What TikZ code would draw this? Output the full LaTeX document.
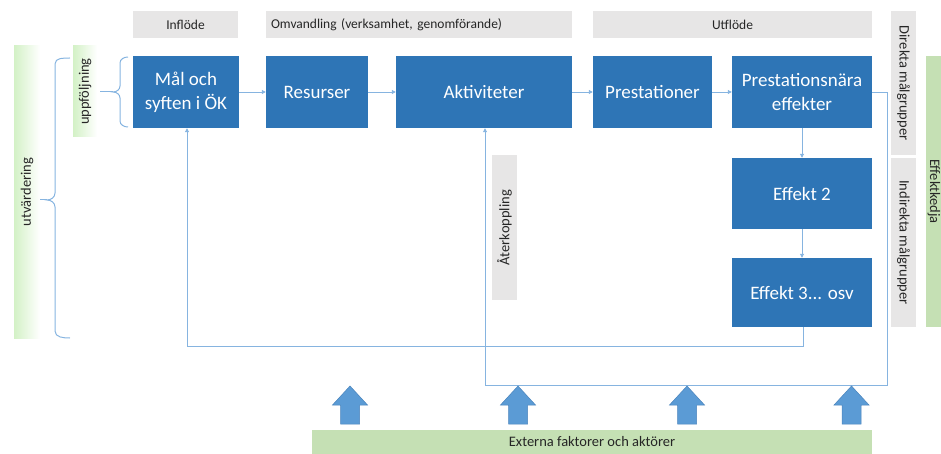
\documentclass[tikz,border=0pt]{standalone}
\usepackage{fontspec}
\setmainfont{Carlito}
\usetikzlibrary{arrows.meta}
\definecolor{boxblue}{HTML}{2E75B6}
\definecolor{hdrgray}{HTML}{E7E6E6}
\definecolor{linkblue}{HTML}{86B4E0}
\definecolor{extgreen}{HTML}{C5E0B4}
\definecolor{gradgreen}{HTML}{D3F1C6}
\definecolor{arrowfill}{HTML}{5B9BD5}
\definecolor{arrowedge}{HTML}{4A84BC}
\definecolor{txt}{HTML}{262626}
\begin{document}
\begin{tikzpicture}[x=1pt,y=-1pt,
  bluebox/.style={fill=boxblue, text=white, font=\fontsize{19}{24}\selectfont, align=center, inner sep=0pt, minimum height=72pt},
  hdr/.style={fill=hdrgray, text=txt, font=\fontsize{13.5}{15}\selectfont, inner sep=0pt, minimum height=27pt},
  vlabel/.style={text=txt, font=\fontsize{14.5}{16}\selectfont, inner sep=0pt},
  vgray/.style={vlabel, fill=hdrgray, minimum height=25pt},
  link/.style={draw=linkblue, line width=0.9pt, -{Triangle[length=4pt,width=4pt]}},
  brace/.style={draw=linkblue, line width=1pt},
  uparrow/.style={fill=arrowfill, draw=arrowedge, line width=0.5pt}
]
\useasboundingbox (0,0) rectangle (941,454);

% headers
\node[hdr, minimum width=105pt] (inf) at (185.5,24.5) {Inflöde};
\node[hdr, minimum width=306pt, text width=296pt, align=left] (omv) at (419,24.5) {Omvandling (verksamhet, genomförande)};
\node[hdr, minimum width=279pt] (utf) at (732.5,24.5) {Utflöde};

% blue boxes
\node[bluebox, minimum width=106pt] (mal) at (186,92) {Mål och\\syften i ÖK};
\node[bluebox, minimum width=102pt] (res) at (317,92) {Resurser};
\node[bluebox, minimum width=176pt] (akt) at (484,92) {Aktiviteter};
\node[bluebox, minimum width=119pt] (pre) at (652.5,92) {Prestationer};
\node[bluebox, minimum width=140pt] (pne) at (802,92) {Prestationsnära\\effekter};
\node[bluebox, minimum width=140pt, minimum height=71pt] (ef2) at (802,193.5) {Effekt 2};
\node[bluebox, minimum width=140pt, minimum height=69pt] (ef3) at (802,292.5) {Effekt 3... osv};

% right side labels
\node[vgray, rotate=-90, minimum width=144pt] (dir) at (903.5,83) {Direkta målgrupper};
\node[vgray, rotate=-90, minimum width=169pt] (ind) at (903.5,242.5) {Indirekta målgrupper};
\fill[extgreen] (926,56) rectangle (945,327);
\node[vlabel, rotate=-90] (eff) at (934,191.5) {Effektkedja};

% Återkoppling
\node[vgray, rotate=90, minimum width=145pt] (ater) at (504.5,227.5) {Återkoppling};

% left gradient labels
\shade[left color=gradgreen, right color=white] (14,46) rectangle (40,338);
\node[vlabel, rotate=90] (utv) at (27,192) {utvärdering};
\shade[left color=gradgreen, right color=white] (73,46) rectangle (97,137);
\node[vlabel, rotate=90] (upp) at (85,91.5) {uppföljning};

% braces
\coordinate (stip) at (113,92);
\draw[brace] (128,57) to[out=180,in=90] (120,63) -- (120,86) to[out=-90,in=0] (stip)
  to[out=0,in=90] (120,98) -- (120,121) to[out=-90,in=180] (128,127);
\draw[brace] (stip) -- (100,92);
\coordinate (btip) at (47,200);
\draw[brace] (70,58) to[out=180,in=90] (55,64) -- (55,193) to[out=-90,in=0] (btip)
  to[out=0,in=90] (55,207) -- (55,331) to[out=-90,in=180] (70,338);
\draw[brace] (btip) -- (40,200);

% forward links
\draw[link] (mal.east) -- (res.west);
\draw[link] (res.east) -- (akt.west);
\draw[link] (akt.east) -- (pre.west);
\draw[link] (pre.east) -- (pne.west);
\draw[link] (pne.south) -- (ef2.north);
\draw[link] (ef2.south) -- (ef3.north);

% feedback loops
\coordinate (fa) at (803,346);
\coordinate (fb) at (187,346);
\draw[link] (ef3.south -| fa) -- (fa) -- (fb) -- (mal.south -| fb);
\coordinate (ga) at (887,92);
\coordinate (gb) at (887,385);
\coordinate (gc) at (485,385);
\draw[link] (pne.east) -- (ga) -- (gb) -- (gc) -- (akt.south -| gc);

% external factors
\node[fill=extgreen, text=txt, font=\fontsize{14.5}{16}\selectfont, minimum width=560pt, minimum height=24pt, inner sep=0pt] (ext) at (592,442) {Externa faktorer och aktörer};
\foreach \cx in {350, 518, 687, 851.5}{
  \draw[uparrow] (\cx-9.5,424) -- (\cx-9.5,405) -- (\cx-17.5,405) -- (\cx,386) -- (\cx+17.5,405) -- (\cx+9.5,405) -- (\cx+9.5,424) -- cycle;
}
\end{tikzpicture}
\end{document}
